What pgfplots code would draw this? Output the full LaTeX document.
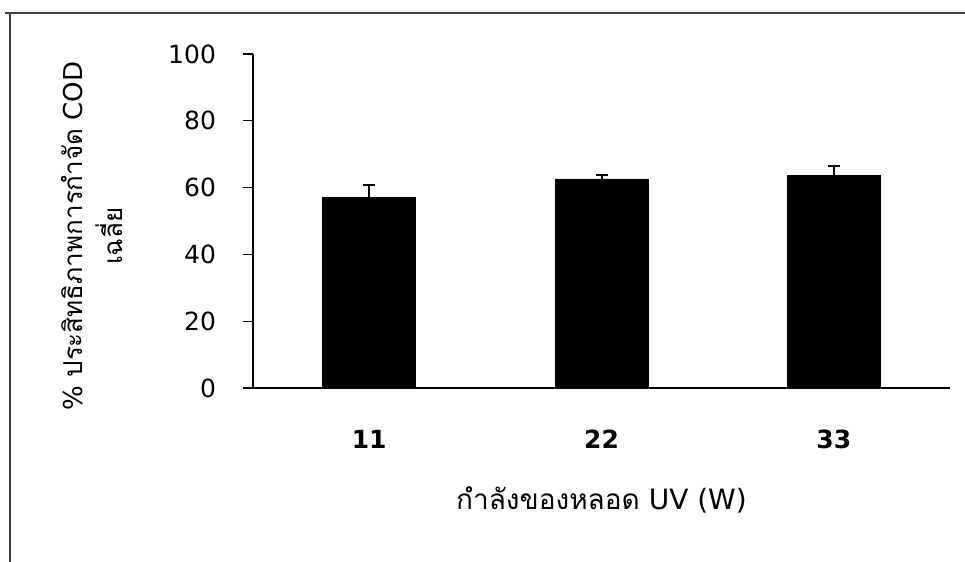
\documentclass[border=0pt]{standalone}
\usepackage{fontspec}
\setmainfont{DejaVu Sans}
\newfontfamily\thaifont[Script=Thai]{Loma}
\usepackage{pgfplots}
\pgfplotsset{compat=1.18}
\begin{document}
\begin{tikzpicture}
\useasboundingbox (0,0) rectangle (482.5pt,281pt);
\draw[line width=0.6pt, black!75] (2.5pt,274.5pt) -- (482.5pt,274.5pt);
\draw[line width=0.6pt, black!75] (5pt,0pt) -- (5pt,275pt);
\begin{axis}[
  at={(126.5pt,87pt)}, anchor=south west,
  scale only axis, width=348.5pt, height=167pt,
  xmin=-0.5, xmax=2.5, ymin=0, ymax=100,
  axis lines=left, axis line style={-, line width=0.6pt, black},
  xtick={0,1,2}, xticklabels={11,22,33}, xtick style={draw=none},
  ytick={0,20,40,60,80,100}, tick align=outside, major tick length=5pt,
  ytick style={line width=0.6pt, black},
  /pgf/number format/assume math mode=true,
  yticklabel style={font=\fontsize{12.5}{14}\selectfont, anchor=east, xshift=-10pt},
  xticklabel style={font=\fontsize{12.5}{15}\selectfont\bfseries, anchor=north, yshift=-12.5pt},
  xlabel={{\thaifont กำลังของหลอด} UV (W)},
  xlabel style={font=\fontsize{14}{17}\selectfont, at={(axis description cs:0.5,-0.335)}, anchor=center},
  ylabel={\% {\thaifont ประสิทธิภาพการกำจัด} COD\\{\thaifont เฉลี่ย}},
  ylabel style={font=\fontsize{13}{20}\selectfont, align=center, at={(axis description cs:-0.231,0.455)}, anchor=center},
]
\addplot[ybar, bar width=46.5pt, fill=black, draw=black,
  error bars/.cd, y dir=plus, y explicit,
  error bar style={line width=1pt, black},
  error mark options={rotate=90, mark size=3pt, line width=1pt, black}]
  table[x=x, y=y, y error=e] {
x y e
0 57.0 3.8
1 62.6 1.3
2 63.6 2.9
};
\end{axis}
\end{tikzpicture}
\end{document}
